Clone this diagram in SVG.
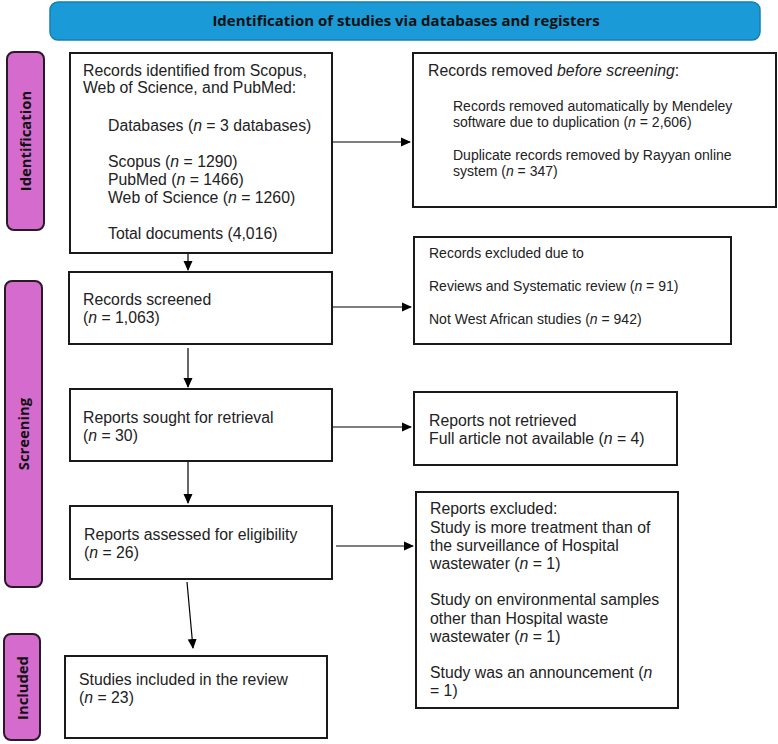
<svg xmlns="http://www.w3.org/2000/svg" width="778" height="744" viewBox="0 0 778 744">
<defs>
<marker id="ah" markerWidth="10" markerHeight="10" refX="9" refY="5" orient="auto" markerUnits="userSpaceOnUse">
<path d="M0,0.5 L10,5 L0,9.5 Z" fill="#000"/>
</marker>
</defs>
<style>
.box{fill:#fff;stroke:#1a1a1a;stroke-width:2}
.side{fill:#d56bcc;stroke:#2a1a28;stroke-width:2}
.t{font-family:"Liberation Sans",Arial,sans-serif;font-size:15.8px;fill:#222}
.s{font-family:"Liberation Sans",Arial,sans-serif;font-size:14px;fill:#222}
.h{font-family:"Open Sans","Liberation Sans",sans-serif;font-weight:bold;font-size:15px;fill:#111}
.v{font-family:"Open Sans","Liberation Sans",sans-serif;font-weight:bold;font-size:14.8px;fill:#111}
.c{stroke:#000;stroke-width:1.2;fill:none}
</style>
<g id="header">
<rect x="50" y="2" width="710" height="38" rx="8" fill="#1a9bd7" stroke="#177fae" stroke-width="1.5"/>
<text class="h" x="406" y="26" text-anchor="middle">Identification of studies via databases and registers</text>
</g>
<g id="side-identification">
<rect class="side" x="7" y="52" width="37" height="178" rx="7"/>
<text class="v" transform="translate(31,141) rotate(-90)" text-anchor="middle">Identification</text>
</g>
<g id="side-screening">
<rect class="side" x="5" y="281" width="37" height="306" rx="7"/>
<text class="v" transform="translate(29,434) rotate(-90)" text-anchor="middle">Screening</text>
</g>
<g id="side-included">
<rect class="side" x="4" y="634" width="36" height="106" rx="7"/>
<text class="v" transform="translate(28,688) rotate(-90)" text-anchor="middle">Included</text>
</g>
<g id="connectors">
<line class="c" x1="332" y1="142" x2="410" y2="142" marker-end="url(#ah)"/>
<line class="c" x1="188" y1="238" x2="188" y2="270" marker-end="url(#ah)"/>
<line class="c" x1="332" y1="307" x2="411" y2="307" marker-end="url(#ah)"/>
<line class="c" x1="188" y1="348" x2="188" y2="387" marker-end="url(#ah)"/>
<line class="c" x1="332" y1="427" x2="411" y2="427" marker-end="url(#ah)"/>
<line class="c" x1="188" y1="461" x2="188" y2="503" marker-end="url(#ah)"/>
<line class="c" x1="336" y1="546" x2="413" y2="546" marker-end="url(#ah)"/>
<line class="c" x1="187" y1="582" x2="193" y2="648" marker-end="url(#ah)"/>
</g>
<g id="n-identified">
<rect class="box" x="70" y="53" width="262" height="200"/>
<text class="t" x="83" y="76">Records identified from Scopus,</text>
<text class="t" x="83" y="93">Web of Science, and PubMed:</text>
<text class="t" x="108" y="131">Databases (<tspan font-style="italic">n</tspan> = 3 databases)</text>
<text class="t" x="108" y="167">Scopus (<tspan font-style="italic">n</tspan> = 1290)</text>
<text class="t" x="108" y="185">PubMed (<tspan font-style="italic">n</tspan> = 1466)</text>
<text class="t" x="108" y="203">Web of Science (<tspan font-style="italic">n</tspan> = 1260)</text>
<text class="t" x="108" y="239">Total documents (4,016)</text>
</g>
<g id="n-removed">
<rect class="box" x="413" y="53" width="363" height="154"/>
<text class="t" x="428" y="76">Records removed <tspan font-style="italic">before screening</tspan>:</text>
<text class="s" x="453" y="111">Records removed automatically by Mendeley</text>
<text class="s" x="453" y="127">software due to duplication (<tspan font-style="italic">n</tspan> = 2,606)</text>
<text class="s" x="453" y="160">Duplicate records removed by Rayyan online</text>
<text class="s" x="453" y="176">system (<tspan font-style="italic">n</tspan> = 347)</text>
</g>
<g id="n-screened">
<rect class="box" x="69" y="272" width="263" height="72"/>
<text class="t" x="83" y="305">Records screened</text>
<text class="t" x="83" y="323">(<tspan font-style="italic">n</tspan> = 1,063)</text>
</g>
<g id="n-excluded">
<rect class="box" x="414" y="237" width="317" height="107"/>
<text class="s" x="429" y="258">Records excluded due to</text>
<text class="s" x="429" y="291">Reviews and Systematic review (<tspan font-style="italic">n</tspan> = 91)</text>
<text class="s" x="429" y="324">Not West African studies (<tspan font-style="italic">n</tspan> = 942)</text>
</g>
<g id="n-sought">
<rect class="box" x="70" y="389" width="262" height="72"/>
<text class="t" x="83" y="423">Reports sought for retrieval</text>
<text class="t" x="83" y="441">(<tspan font-style="italic">n</tspan> = 30)</text>
</g>
<g id="n-notretrieved">
<rect class="box" x="414" y="392" width="263" height="73"/>
<text class="t" x="429" y="426">Reports not retrieved</text>
<text class="t" x="429" y="444">Full article not available (<tspan font-style="italic">n</tspan> = 4)</text>
</g>
<g id="n-assessed">
<rect class="box" x="70" y="506" width="262" height="73"/>
<text class="t" x="84" y="540">Reports assessed for eligibility</text>
<text class="t" x="84" y="558">(<tspan font-style="italic">n</tspan> = 26)</text>
</g>
<g id="n-reportsexcluded">
<rect class="box" x="416" y="492" width="262" height="216"/>
<text class="t" x="430" y="514">Reports excluded:</text>
<text class="t" x="430" y="533">Study is more treatment than of</text>
<text class="t" x="430" y="551">the surveillance of Hospital</text>
<text class="t" x="430" y="569">wastewater (<tspan font-style="italic">n</tspan> = 1)</text>
<text class="t" x="430" y="605">Study on environmental samples</text>
<text class="t" x="430" y="624">other than Hospital waste</text>
<text class="t" x="430" y="642">wastewater (<tspan font-style="italic">n</tspan> = 1)</text>
<text class="t" x="430" y="678">Study was an announcement (<tspan font-style="italic">n</tspan></text>
<text class="t" x="430" y="696">= 1)</text>
</g>
<g id="n-included">
<rect class="box" x="65" y="656" width="262" height="82"/>
<text class="t" x="79" y="685">Studies included in the review</text>
<text class="t" x="79" y="703">(<tspan font-style="italic">n</tspan> = 23)</text>
</g>
</svg>
